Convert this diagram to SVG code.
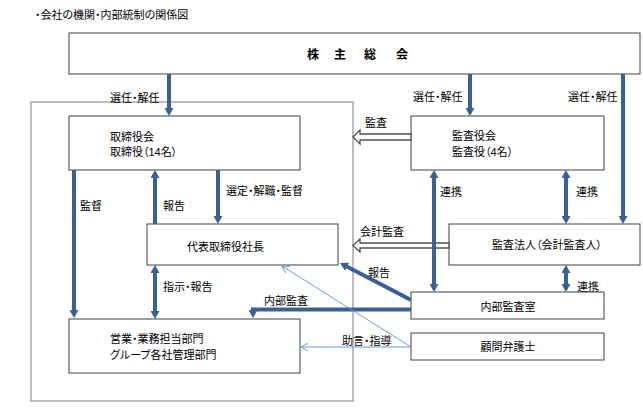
<svg xmlns="http://www.w3.org/2000/svg" width="643" height="409" viewBox="0 0 643 409">
<style>
text{font-family:"Liberation Sans","Noto Sans CJK JP",sans-serif;font-size:11px;fill:#000;font-feature-settings:"palt"}
.box{fill:#fff;stroke:#404040;stroke-width:1}
.frame{fill:none;stroke:#a6a6a6;stroke-width:1.5}
.thick{fill:none;stroke:#3b6193;stroke-width:4}
.thin{fill:none;stroke:#6b9be0;stroke-width:1}
.hollow{fill:#fff;stroke:#505050;stroke-width:1.3}
.mid{text-anchor:middle}
.bold{font-weight:bold;font-size:12px}
</style>
<defs>
<marker id="ah" markerUnits="userSpaceOnUse" markerWidth="8" markerHeight="9" viewBox="0 0 8 9" refX="2" refY="4.5" orient="auto-start-reverse">
<path d="M0,0 L8,4.5 L0,9 z" fill="#3b6193"/>
</marker>
<marker id="oh" markerUnits="userSpaceOnUse" markerWidth="9" markerHeight="9" viewBox="0 0 9 9" refX="8" refY="4.5" orient="auto">
<path d="M1,0.5 L8,4.5 L1,8.5" fill="none" stroke="#6b9be0" stroke-width="1"/>
</marker>
</defs>
<rect width="643" height="409" fill="#fff"/>
<text x="35" y="19">・会社の機関・内部統制の関係図</text>
<rect class="frame" x="31" y="102" width="322" height="299"/>

<g id="shareholders">
<rect class="box" x="69" y="33" width="571" height="41"/>
<text class="bold mid" x="313 340 370 402" y="59">株主総会</text>
</g>
<g id="board">
<rect class="box" x="69" y="116" width="231" height="54"/>
<text x="110" y="141">取締役会</text>
<text x="110" y="156">取締役（14名）</text>
</g>
<g id="auditors">
<rect class="box" x="411" y="116" width="193" height="54"/>
<text x="452" y="140">監査役会</text>
<text x="452" y="156">監査役（4名）</text>
</g>
<g id="president">
<rect class="box" x="147" y="224" width="191" height="41"/>
<text x="187" y="251">代表取締役社長</text>
</g>
<g id="audit-firm">
<rect class="box" x="449" y="224" width="191" height="41"/>
<text x="492" y="249">監査法人（会計監査人）</text>
</g>
<g id="internal-audit">
<rect class="box" x="411" y="292" width="193" height="27"/>
<text class="mid" x="508" y="311">内部監査室</text>
</g>
<g id="lawyer">
<rect class="box" x="411" y="333" width="193" height="27"/>
<text class="mid" x="508" y="351">顧問弁護士</text>
</g>
<g id="departments">
<rect class="box" x="69" y="319" width="231" height="54"/>
<text x="110" y="343">営業・業務担当部門</text>
<text x="110" y="359">グループ各社管理部門</text>
</g>

<g id="connectors">
<polygon class="hollow" points="411,134 360,134 360,130 353,137 360,144 360,140 411,140"/>
<polygon class="hollow" points="449,243 360,243 360,239 353,245.5 360,252 360,248 449,248"/>
<line class="thick" x1="169" y1="74" x2="169" y2="110" marker-end="url(#ah)"/>
<line class="thick" x1="470" y1="74" x2="470" y2="110" marker-end="url(#ah)"/>
<line class="thick" x1="623" y1="74" x2="623" y2="218" marker-end="url(#ah)"/>
<line class="thick" x1="74" y1="170" x2="74" y2="312" marker-end="url(#ah)"/>
<line class="thick" x1="155" y1="224" x2="155" y2="176" marker-end="url(#ah)"/>
<line class="thick" x1="218" y1="170" x2="218" y2="218" marker-end="url(#ah)"/>
<line class="thick" x1="155" y1="271" x2="155" y2="313" marker-start="url(#ah)" marker-end="url(#ah)"/>
<line class="thick" x1="434" y1="176" x2="434" y2="286" marker-start="url(#ah)" marker-end="url(#ah)"/>
<line class="thick" x1="566" y1="176" x2="566" y2="218" marker-start="url(#ah)" marker-end="url(#ah)"/>
<line class="thick" x1="566" y1="271" x2="566" y2="286" marker-start="url(#ah)" marker-end="url(#ah)"/>
<line class="thick" x1="411" y1="300" x2="345.3" y2="265.8" marker-end="url(#ah)"/>
<path class="thick" d="M411,309.5 H253 V312" marker-end="url(#ah)"/>
<line class="thin" x1="411" y1="347" x2="282" y2="266" marker-end="url(#oh)"/>
<line class="thin" x1="411" y1="347" x2="301" y2="347" marker-end="url(#oh)"/>
</g>

<g id="labels">
<text x="110" y="102">選任・解任</text>
<text x="413" y="101">選任・解任</text>
<text x="568" y="101">選任・解任</text>
<text x="365" y="127">監査</text>
<text x="80" y="210">監督</text>
<text x="163" y="210">報告</text>
<text x="226" y="195">選定・解職・監督</text>
<text x="440" y="196">連携</text>
<text x="576" y="196">連携</text>
<text x="360" y="236">会計監査</text>
<text x="368" y="277">報告</text>
<text x="163" y="291">指示・報告</text>
<text x="577" y="291">連携</text>
<text x="264" y="305">内部監査</text>
<text x="342" y="345">助言・指導</text>
</g>
</svg>
